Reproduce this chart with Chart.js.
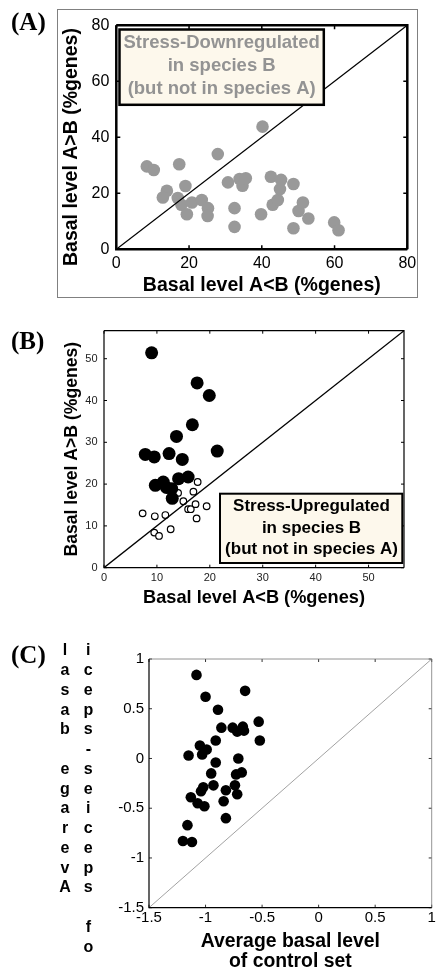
<!DOCTYPE html>
<html>
<head>
<meta charset="utf-8">
<script src="https://cdn.jsdelivr.net/npm/chart.js@4.4.1/dist/chart.umd.min.js"></script>
<style>
  body { margin: 0; background: #fff; }
  #page { position: relative; width: 437px; height: 974px; overflow: hidden; }
  canvas { position: absolute; left: 0; }
</style>
</head>
<body>
<div id="page">
  <canvas id="chartA" width="437" height="310" style="top:0"></canvas>
  <canvas id="chartB" width="437" height="330" style="top:310px"></canvas>
  <canvas id="chartC" width="437" height="334" style="top:640px"></canvas>
</div>
<script>
// (A) stress-downregulated genes
let aX = [8.4, 10.3, 17.3, 27.9, 40.2, 13.9, 12.8, 16.9, 17.9, 19.0, 19.4, 20.8, 23.5, 25.2, 25.1, 30.7, 32.5,
          32.5, 33.9, 34.7, 35.6, 39.8, 42.5, 43.0, 44.4, 45.0, 45.3, 48.7, 48.7, 50.1, 51.3, 52.8, 59.9, 61.1];
let aY = [29.6, 28.3, 30.4, 34.0, 43.8, 20.9, 18.5, 18.3, 15.9, 22.6, 12.5, 16.7, 17.6, 14.7, 11.9, 23.9, 14.7,
          8.0, 25.1, 22.7, 25.4, 12.5, 25.9, 15.9, 17.6, 21.5, 24.8, 23.3, 7.5, 13.7, 16.7, 11.0, 9.6, 6.8];
let aRange = [0, 80];
let aTicks = [0, 20, 40, 60, 80];
let aNote = ['Stress-Downregulated', 'in species B', '(but not in species A)'];

// (B) stress-upregulated genes
let bFilledX = [9.0, 17.6, 19.9, 16.7, 13.7, 7.8, 9.5, 12.3, 14.8, 21.4, 9.7, 11.2, 11.8, 12.8, 14.1, 15.9, 12.9];
let bFilledY = [51.4, 44.2, 41.2, 34.2, 31.4, 27.1, 26.5, 27.3, 25.9, 27.9, 19.7, 20.5, 19.2, 18.9, 21.3, 21.7, 16.6];
let bOpenX = [7.3, 9.6, 9.5, 10.4, 11.6, 12.6, 14.0, 15.0, 15.9, 16.4, 16.9, 17.3, 17.7, 17.5, 19.4];
let bOpenY = [13.0, 12.3, 8.4, 7.6, 12.6, 9.2, 17.9, 15.9, 14.0, 14.0, 18.2, 15.2, 20.5, 11.8, 14.7];
let bRange = [0, 56.7];
let bTicks = [0, 10, 20, 30, 40, 50];
let bNote = ['Stress-Upregulated', 'in species B', '(but not in species A)'];

// (C) species-specific vs control set
let cX = [-1.08, -1.00, -0.65, -0.89, -0.86, -0.76, -0.72, -0.67, -0.66, -0.53, -0.52, -0.91, -1.05, -0.99, -1.03,
          -1.15, -0.91, -0.71, -0.95, -0.73, -0.68, -0.93, -1.02, -1.04, -0.82, -0.74, -0.72, -1.13, -1.07, -1.01,
          -0.84, -0.82, -1.16, -1.20, -1.12];
let cY = [0.84, 0.62, 0.68, 0.49, 0.31, 0.31, 0.27, 0.32, 0.28, 0.37, 0.18, 0.18, 0.13, 0.09, 0.04,
          0.03, -0.04, 0.00, -0.15, -0.16, -0.14, -0.27, -0.29, -0.33, -0.32, -0.27, -0.36, -0.39, -0.45, -0.48,
          -0.43, -0.60, -0.67, -0.83, -0.84];
let cRange = [-1.5, 1];
let cTicks = [-1.5, -1, -0.5, 0, 0.5, 1];
let cYTitle = ['Average basal', 'of species-speci'];
let cXTitle = ['Average basal level', 'of control set'];

Chart.defaults.font.family = "'Liberation Sans', Arial, sans-serif";
Chart.defaults.color = '#000';

function pts(xs, ys) {
  return xs.map((x, i) => ({ x: x, y: ys[i] }));
}

function axis(range, ticks, o) {
  return {
    type: 'linear',
    min: range[0],
    max: range[1],
    grid: { display: false, drawTicks: false },
    border: { display: false },
    afterBuildTicks: s => { s.ticks = ticks.map(v => ({ value: v })); },
    afterFit: s => {
      if (o.width) s.width = o.width;
      if (o.height) s.height = o.height;
    },
    ticks: { padding: o.pad, color: o.tickColor || '#000', font: { size: o.tickSize }, callback: v => String(v) },
    title: o.title ? {
      display: true,
      text: o.title,
      padding: 0,
      color: '#000',
      font: { size: o.titleSize, weight: 'bold', lineHeight: o.titleLH || 1.2 }
    } : { display: false }
  };
}

// frame, inward ticks, note boxes and panel letters
function decor(o) {
  return {
    id: 'decor',
    afterDatasetsDraw(chart) {
      let ctx = chart.ctx, a = chart.chartArea;
      let xs = chart.scales.x, ys = chart.scales.y;
      ctx.save();
      ctx.strokeStyle = o.tickColor;
      ctx.lineWidth = o.tickWidth;
      ctx.beginPath();
      xs.ticks.forEach(t => {
        let p = xs.getPixelForValue(t.value);
        ctx.moveTo(p, a.bottom); ctx.lineTo(p, a.bottom - o.tickLen);
        ctx.moveTo(p, a.top); ctx.lineTo(p, a.top + o.tickLen);
      });
      ys.ticks.forEach(t => {
        let p = ys.getPixelForValue(t.value);
        ctx.moveTo(a.left, p); ctx.lineTo(a.left + o.tickLen, p);
        ctx.moveTo(a.right, p); ctx.lineTo(a.right - o.tickLen, p);
      });
      ctx.stroke();

      // top/right edges
      ctx.strokeStyle = o.farColor;
      ctx.lineWidth = o.farWidth;
      ctx.beginPath();
      ctx.moveTo(a.left, a.top); ctx.lineTo(a.right, a.top); ctx.lineTo(a.right, a.bottom);
      ctx.stroke();
      // left/bottom edges
      ctx.strokeStyle = '#000';
      ctx.lineWidth = o.nearWidth;
      ctx.beginPath();
      ctx.moveTo(a.left, a.top); ctx.lineTo(a.left, a.bottom); ctx.lineTo(a.right, a.bottom);
      ctx.stroke();

      if (o.note) {
        let n = o.note;
        ctx.fillStyle = '#fdf8ec';
        ctx.fillRect(n.x, n.y, n.w, n.h);
        ctx.strokeStyle = '#000';
        ctx.lineWidth = n.line;
        ctx.strokeRect(n.x, n.y, n.w, n.h);
        ctx.fillStyle = n.color;
        ctx.font = 'bold ' + n.size + "px 'Liberation Sans', Arial, sans-serif";
        ctx.textAlign = 'center';
        ctx.textBaseline = 'middle';
        n.lines.forEach((s, i) => ctx.fillText(s, n.cx, n.rows[i]));
      }
      ctx.restore();
    },
    afterDraw(chart) {
      let ctx = chart.ctx;
      ctx.save();
      if (o.outer) {
        ctx.strokeStyle = '#808080';
        ctx.lineWidth = 1;
        ctx.strokeRect(o.outer[0], o.outer[1], o.outer[2], o.outer[3]);
      }
      ctx.fillStyle = '#000';
      ctx.font = "bold 25px 'Liberation Serif', 'Times New Roman', serif";
      ctx.textAlign = 'left';
      ctx.textBaseline = 'alphabetic';
      ctx.fillText(o.panel, 11, o.panelY);
      if (o.stack) {
        ctx.font = "bold 16px 'Liberation Sans', Arial, sans-serif";
        ctx.textAlign = 'center';
        o.stack.texts.forEach((s, c) => {
          s.split('').reverse().forEach((ch, i) => {
            ctx.fillText(ch, o.stack.cols[c], o.stack.y0 + i * o.stack.dy);
          });
        });
      }
      ctx.restore();
    }
  };
}

let common = {
  responsive: false,
  animation: false,
  devicePixelRatio: 1,
  events: [],
  plugins: { legend: { display: false }, tooltip: { enabled: false } }
};

function makeChart(id, datasets, padding, scales, deco) {
  return new Chart(document.getElementById(id), {
    type: 'scatter',
    data: { datasets: datasets },
    options: Object.assign({}, common, { layout: { padding: padding }, scales: scales }),
    plugins: [decor(deco)]
  });
}

function diag(range, color, width) {
  return {
    data: pts(range, range),
    showLine: true,
    borderColor: color,
    borderWidth: width,
    pointRadius: 0,
    fill: false
  };
}

makeChart('chartA', [
  diag(aRange, '#000', 1.3),
  { data: pts(aX, aY), backgroundColor: '#999999', borderWidth: 0, pointRadius: 6.3 }
], { left: 60, right: 29.7, top: 25.3, bottom: 12.3 }, {
  x: axis(aRange, aTicks, { height: 48.4, pad: 5, tickSize: 16, title: 'Basal level A<B (%genes)', titleSize: 19.5 }),
  y: axis(aRange, aTicks, { width: 56.3, pad: 7, tickSize: 16, title: 'Basal level A>B (%genes)\u2002\u2002', titleSize: 19.5 })
}, {
  tickColor: '#000', tickWidth: 1.5, tickLen: 4,
  farColor: '#000', farWidth: 2.5, nearWidth: 2.5,
  outer: [57.5, 9.5, 360, 288],
  panel: '(A)', panelY: 30,
  note: { x: 119.5, y: 29.5, w: 204.3, h: 75.3, line: 2.5, color: '#939393', size: 18.5,
          cx: 221.7, rows: [43.3, 65.8, 88.6], lines: aNote }
});

makeChart('chartB', [
  diag(bRange, '#000', 1.3),
  { data: pts(bFilledX, bFilledY), backgroundColor: '#000', borderWidth: 0, pointRadius: 6.5 },
  { data: pts(bOpenX, bOpenY), backgroundColor: '#fff', borderColor: '#000', borderWidth: 1.2, pointRadius: 3.3 }
], { left: 61.1, right: 33, top: 20.7, bottom: 30.8 }, {
  x: axis(bRange, bTicks, { height: 41.5, pad: 4, tickSize: 11, tickColor: '#222', title: 'Basal level A<B (%genes)', titleSize: 18.2 }),
  y: axis(bRange, bTicks, { width: 42.9, pad: 6.5, tickSize: 11, tickColor: '#222', title: 'Basal level A>B (%genes)', titleSize: 17.6 })
}, {
  tickColor: '#000', tickWidth: 1, tickLen: 3,
  farColor: '#000', farWidth: 1.2, nearWidth: 1.2,
  panel: '(B)', panelY: 39.3,
  note: { x: 220, y: 183.7, w: 182.3, h: 69.3, line: 2, color: '#000', size: 17,
          cx: 311.5, rows: [196.7, 218.3, 239.3], lines: bNote }
});

makeChart('chartC', [
  diag(cRange, '#8a8a8a', 0.8),
  { data: pts(cX, cY), backgroundColor: '#000', borderWidth: 0, pointRadius: 5.3 }
], { left: 0, right: 4.2, top: 19, bottom: 2.3 }, {
  x: axis(cRange, cTicks, { height: 64, pad: 1, tickSize: 15, title: cXTitle, titleSize: 19.4, titleLH: 1.03 }),
  y: axis(cRange, cTicks, { width: 149, pad: 5, tickSize: 15 })
}, {
  tickColor: '#333', tickWidth: 1, tickLen: 3,
  farColor: '#777', farWidth: 0.8, nearWidth: 1.2,
  panel: '(C)', panelY: 22.7,
  stack: { texts: cYTitle, cols: [65, 88.3], y0: 15.3, dy: 19.75 }
});
</script>
</body>
</html>
